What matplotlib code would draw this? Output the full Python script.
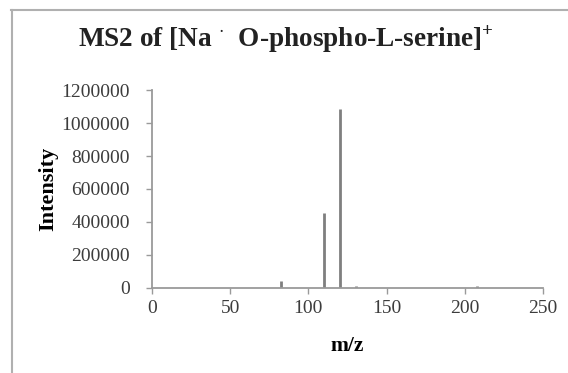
import numpy as np
import matplotlib
matplotlib.use('Agg')
from matplotlib import pyplot as plt
from matplotlib.lines import Line2D

# peaks
mz = [82.5, 110.0, 120.5, 130.5, 207.5]
intensity = [45000, 455000, 1085000, 12000, 12000]

xticks = [0, 50, 100, 150, 200, 250]
yticks = [0, 200000, 400000, 600000, 800000, 1000000, 1200000]

plt.rcParams['font.family'] = 'Liberation Serif'
plt.rcParams['mathtext.fontset'] = 'custom'
plt.rcParams['mathtext.rm'] = 'Liberation Serif:bold'

fig = plt.figure(figsize=(5.68, 3.73), dpi=100)
ax = fig.add_axes([0.2676, 0.2279, 0.956 - 0.2676, 0.7587 - 0.2279])

ax.vlines(mz, 0, intensity, color='#7f7f7f', linewidth=2.0)

ax.set_xlim(0, 250)
ax.set_ylim(0, 1200000)
ax.set_xticks(xticks)
ax.set_yticks(yticks)
ax.set_xticklabels([str(t) for t in xticks])
ax.set_yticklabels([str(t) for t in yticks])

for s in ['top', 'right']:
    ax.spines[s].set_visible(False)
for s in ['left', 'bottom']:
    ax.spines[s].set_color('#9a9a9a')
    ax.spines[s].set_linewidth(1.3)

ax.tick_params(axis='both', colors='#9a9a9a', labelcolor='#3c3c3c',
               labelsize=14, length=4, width=1.0)
ax.tick_params(axis='x', pad=5)
ax.tick_params(axis='y', pad=12)

ax.set_xlabel('m/z', fontsize=15.5, fontweight='bold', labelpad=13)
ax.set_ylabel('Intensity', fontsize=16, fontweight='bold', labelpad=2)

fig.text(0.503, 1 - 39 / 373, r'MS2 of [Na $^{\cdot}$  O-phospho-L-serine]$^{+}$',
         ha='center', va='center', fontsize=19.6, fontweight='bold', color='#222222')

# chart border (only top and left visible in crop)
fig.add_artist(Line2D([11 / 568, 1.0], [1 - 10 / 373, 1 - 10 / 373],
                      transform=fig.transFigure, color='#b0b0b0', linewidth=1.5))
fig.add_artist(Line2D([11.5 / 568, 11.5 / 568], [0, 1 - 10 / 373],
                      transform=fig.transFigure, color='#b0b0b0', linewidth=1.5))

fig.savefig('out.png', dpi=100)
